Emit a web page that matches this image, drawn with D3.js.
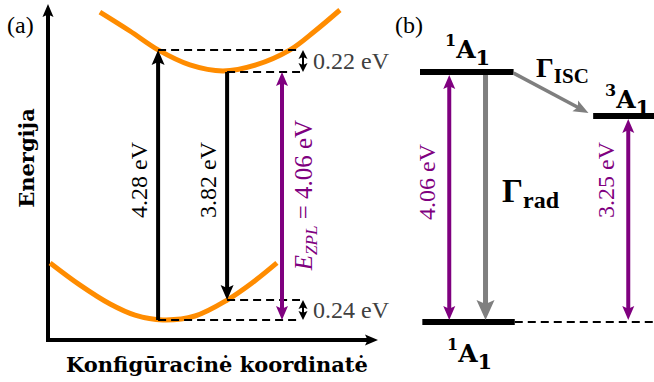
<!DOCTYPE html>
<html>
<head>
<meta charset="utf-8">
<script src="https://cdn.jsdelivr.net/npm/d3@7"></script>
<style>
  body { margin: 0; background: #fff; }
  svg { display: block; }
</style>
</head>
<body>
<div id="chart"></div>
<script>
// ---- panel (a): configuration coordinate diagram (schematic units) ----
// [coordinate, energy] points
var upperCurve = [[1.73, 10.93], [2.73, 10.30], [3.67, 9.67], [4.73, 9.17], [5.83, 8.97],
                  [6.93, 9.17], [8.07, 9.67], [8.90, 10.30], [9.73, 11.0]];
var groundCurve = [[0.07, 2.57], [1.07, 1.83], [2.07, 1.20], [2.90, 0.83], [3.83, 0.67],
                   [4.90, 0.80], [5.97, 1.33], [6.80, 1.90], [7.63, 2.57]];

// vertical transitions: coordinate, start level, end level
var transLabels = ["4.28 eV", "3.82 eV"];
var transQ = [3.67, 5.97];
var transFrom = [0.67, 8.93];
var transTo = [9.67, 1.33];

var zplLabel = "4.06 eV";
var zplQ = 7.8;

// relaxation gaps: label, lower level, upper level
var gapLabels = ["0.22 eV", "0.24 eV"];
var gapLo = [8.93, 0.67];
var gapHi = [9.67, 1.33];
var gapQ = 8.5;

// ---- panel (b): level scheme ----
var levelSup = ["1", "1", "3"];
var levelSub = ["1", "1", "1"];
var levelEnergy = [0, 4.06, 3.25];     // eV
var levelHeight = [0.6, 8.93, 7.47];   // drawn height, same units as panel (a)
var rateNames = ["rad", "ISC"];

var width = 654, height = 382;
var purple = "#7f007f", gray = "#7f7f7f", orange = "#ff8c00";
var regFont = "'Liberation Serif', serif";
var boldFont = "'DejaVu Serif', serif";

var svg = d3.select("#chart").append("svg")
  .attr("width", width)
  .attr("height", height);

var xA = d3.scaleLinear().domain([0, 11]).range([48, 378]);
var yA = d3.scaleLinear().domain([0, 11.2]).range([340, 4]);
var xB = d3.scaleLinear().domain([0, 10]).range([420, 654]);

// line with filled arrow head(s)
function arrow(g, x1, y1, x2, y2, o) {
  var dx = x2 - x1, dy = y2 - y1, L = Math.hypot(dx, dy);
  var ux = dx / L, uy = dy / L;
  var inset = o.headL * 0.6;
  g.append("line")
    .attr("x1", o.both ? x1 + ux * inset : x1)
    .attr("y1", o.both ? y1 + uy * inset : y1)
    .attr("x2", x2 - ux * inset)
    .attr("y2", y2 - uy * inset)
    .attr("stroke", o.color)
    .attr("stroke-width", o.w);
  head(g, x2, y2, ux, uy, o);
  if (o.both) head(g, x1, y1, -ux, -uy, o);
}
function head(g, x, y, ux, uy, o) {
  var px = -uy, py = ux, bx = x - ux * o.headL, by = y - uy * o.headL;
  var nx = x - ux * o.headL * 0.8, ny = y - uy * o.headL * 0.8;
  var pts = [[x, y], [bx + px * o.headW / 2, by + py * o.headW / 2], [nx, ny],
             [bx - px * o.headW / 2, by - py * o.headW / 2]];
  g.append("path")
    .attr("d", "M" + pts.join("L") + "Z")
    .attr("fill", o.color);
}

// ================= panel (a) =================
var ga = svg.append("g");

ga.append("text")
  .attr("x", 7).attr("y", 33)
  .style("font", "24px " + regFont)
  .text("(a)");

// axes
arrow(ga, xA(0), yA(0) + 2, xA(0), yA(11.2), { color: "black", w: 4, headL: 13, headW: 11 });
arrow(ga, xA(0) - 2, yA(0), xA(11), yA(0), { color: "black", w: 4, headL: 13, headW: 11 });

ga.append("text")
  .attr("transform", "translate(34,158) rotate(-90)")
  .attr("text-anchor", "middle")
  .style("font", "bold 21px " + boldFont)
  .text("Energija");

ga.append("text")
  .attr("x", 217).attr("y", 372)
  .attr("text-anchor", "middle")
  .style("font", "bold 21px " + boldFont)
  .text("Konfigūracinė koordinatė");

// potential curves
var curve = d3.line()
  .x(function (d) { return xA(d[0]); })
  .y(function (d) { return yA(d[1]); })
  .curve(d3.curveCatmullRom);

[upperCurve, groundCurve].forEach(function (c) {
  ga.append("path")
    .datum(c)
    .attr("d", curve)
    .attr("fill", "none")
    .attr("stroke", orange)
    .attr("stroke-width", 5);
});

// dashed reference levels
var dashLevels = [[transQ[0], transTo[0]], [transQ[1], transFrom[1]],
                  [transQ[1], transTo[1]], [transQ[0], transFrom[0]]];
dashLevels.forEach(function (d) {
  ga.append("line")
    .attr("x1", xA(d[0])).attr("x2", xA(8.4))
    .attr("y1", yA(d[1])).attr("y2", yA(d[1]))
    .attr("stroke", "black")
    .attr("stroke-width", 2)
    .attr("stroke-dasharray", "8,5");
});

// vertical absorption / emission
transLabels.forEach(function (lab, i) {
  arrow(ga, xA(transQ[i]), yA(transFrom[i]), xA(transQ[i]), yA(transTo[i]),
    { color: "black", w: 4, headL: 15, headW: 13 });
  var xm = xA(transQ[i]) - 11;
  ga.append("text")
    .attr("transform", "translate(" + xm + ",180) rotate(-90)")
    .attr("text-anchor", "middle")
    .style("font", "24px " + regFont)
    .text(lab);
});

// zero-phonon line
arrow(ga, xA(zplQ), yA(gapLo[0]), xA(zplQ), yA(gapLo[1]),
  { color: purple, w: 4, headL: 14, headW: 12, both: true });
var zt = ga.append("text")
  .attr("transform", "translate(" + (xA(zplQ) + 30) + ",195) rotate(-90)")
  .attr("text-anchor", "middle")
  .attr("fill", purple)
  .style("font-family", regFont)
  .style("font-size", "25px");
zt.append("tspan").style("font-style", "italic").text("E");
zt.append("tspan").style("font-style", "italic").style("font-size", "17px").attr("dy", 5).text("ZPL");
zt.append("tspan").attr("dy", -5).text(" = " + zplLabel);

// relaxation energies
gapLabels.forEach(function (lab, i) {
  arrow(ga, xA(gapQ), yA(gapLo[i]), xA(gapQ), yA(gapHi[i]),
    { color: "black", w: 2, headL: 9, headW: 9, both: true });
  ga.append("text")
    .attr("x", xA(gapQ) + 10)
    .attr("y", (yA(gapLo[i]) + yA(gapHi[i])) / 2 + 8)
    .attr("fill", "#404040")
    .style("font", "24px " + regFont)
    .text(lab);
});

// ================= panel (b) =================
var gb = svg.append("g");

gb.append("text")
  .attr("x", 395).attr("y", 33)
  .style("font", "24px " + regFont)
  .text("(b)");

var y0 = yA(levelHeight[0]), y1 = yA(levelHeight[1]), y3 = yA(levelHeight[2]);

// levels
gb.append("line").attr("x1", xB(0)).attr("x2", xB(4)).attr("y1", y1).attr("y2", y1)
  .attr("stroke", "black").attr("stroke-width", 6);
gb.append("line").attr("x1", xB(0.1)).attr("x2", xB(4.05)).attr("y1", y0).attr("y2", y0)
  .attr("stroke", "black").attr("stroke-width", 6);
gb.append("line").attr("x1", xB(4.05)).attr("x2", xB(10)).attr("y1", y0).attr("y2", y0)
  .attr("stroke", "black").attr("stroke-width", 2).attr("stroke-dasharray", "8,5");
gb.append("line").attr("x1", xB(7.4)).attr("x2", xB(10)).attr("y1", y3).attr("y2", y3)
  .attr("stroke", "black").attr("stroke-width", 6);

// level labels
function levelLabel(i, x, y) {
  var t = gb.append("text")
    .attr("x", x).attr("y", y)
    .style("font-family", boldFont)
    .style("font-weight", "bold");
  t.append("tspan").style("font-size", "16px").attr("dy", -12).text(levelSup[i]);
  t.append("tspan").style("font-size", "25px").attr("dy", 12).text("A");
  t.append("tspan").style("font-size", "21px").attr("dy", 7).text(levelSub[i]);
}
levelLabel(1, 445, 58);
levelLabel(0, 447, 362);
levelLabel(2, 605, 108);

// radiative transitions with energies
var fmt = d3.format(".2f");
arrow(gb, xB(1.25), y0 - 2, xB(1.25), y1 + 3,
  { color: purple, w: 4, headL: 14, headW: 12, both: true });
arrow(gb, xB(8.9), y0 - 2, xB(8.9), y3 + 3,
  { color: purple, w: 4, headL: 14, headW: 12, both: true });
[[1.25, 182, 1], [8.9, 180, 2]].forEach(function (d) {
  gb.append("text")
    .attr("transform", "translate(" + (xB(d[0]) - 14) + "," + d[1] + ") rotate(-90)")
    .attr("text-anchor", "middle")
    .attr("fill", purple)
    .style("font", "24px " + regFont)
    .text(fmt(levelEnergy[d[2]]) + " eV");
});

// decay channels
arrow(gb, xB(2.8), y1 + 3, xB(2.8), y0 - 2, { color: gray, w: 5, headL: 20, headW: 18 });
arrow(gb, xB(4), y1 + 1, xB(7.2), y3 - 3, { color: gray, w: 3.5, headL: 15, headW: 12 });

function rateLabel(name, x, y, big, small, dy) {
  var t = gb.append("text")
    .attr("x", x).attr("y", y)
    .style("font-family", regFont)
    .style("font-weight", "bold");
  t.append("tspan").style("font-size", big + "px").text("Γ");
  t.append("tspan").style("font-size", small + "px").attr("dy", dy).text(name);
}
rateLabel(rateNames[0], 502, 202, 33, 24, 6);
rateLabel(rateNames[1], 536, 77, 28, 21, 6);
</script>
</body>
</html>
